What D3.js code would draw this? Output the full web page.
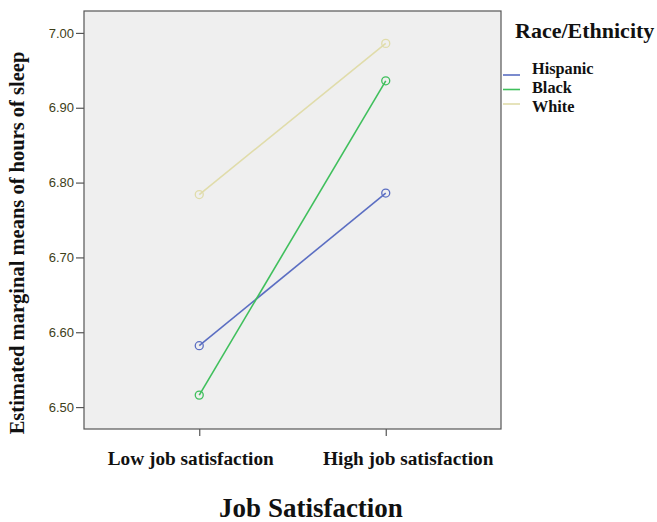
<!DOCTYPE html>
<html><head><meta charset="utf-8">
<script src="https://cdn.jsdelivr.net/npm/d3@7"></script>
<style>body{margin:0;background:#fff}svg{display:block}</style>
</head><body>
<svg id="c" width="657" height="522"></svg>
<script>
const categories = ["Low job satisfaction", "High job satisfaction"];
const seriesNames = ["Hispanic", "Black", "White"];
const hispanic = [6.582, 6.786];
const black = [6.516, 6.936];
const white = [6.784, 6.986];
const yTicks = [6.50, 6.60, 6.70, 6.80, 6.90, 7.00];
const colors = ["#5b6ec2", "#3fbf5c", "#e0dcaa"];

const svg = d3.select("#c");
const L = 84, R = 501, T = 11, B = 429;
const serif = "'Liberation Serif', 'Times New Roman', serif";
const x = d3.scalePoint().domain(categories).range([L, R]).padding(0.618);
const y = d3.scaleLinear().domain([6.4707, 7.0293]).range([B, T]);

svg.append("rect").attr("x", L).attr("y", T).attr("width", R - L).attr("height", B - T)
  .attr("fill", "#efefef").attr("stroke", "#555").attr("stroke-width", 1.2);

const yAxis = svg.append("g").attr("transform", `translate(${L},0)`)
  .call(d3.axisLeft(y).tickValues(yTicks).tickFormat(d3.format(".2f")).tickSize(8).tickPadding(2));
yAxis.select(".domain").remove();
yAxis.selectAll("line").attr("stroke", "#555").attr("stroke-width", 1.2);
yAxis.selectAll("text").attr("fill", "#3e3e18").style("font-family", "Arial, 'Liberation Sans', sans-serif").style("font-size", "13px");

const xAxis = svg.append("g").attr("transform", `translate(0,${B})`)
  .call(d3.axisBottom(x).tickSize(7).tickPadding(15));
xAxis.select(".domain").remove();
xAxis.selectAll("line").attr("stroke", "#555").attr("stroke-width", 1.2);
xAxis.selectAll("text").attr("fill", "#111").style("font-family", serif)
  .style("font-size", "19.3px").style("font-weight", "bold")
  .attr("dx", (d, i) => i === 0 ? -9 : 22);

const data = [hispanic, black, white];
const line = d3.line().x((d, i) => x(categories[i])).y(d => y(d));
data.forEach((vals, k) => {
  svg.append("path").datum(vals).attr("d", line).attr("fill", "none")
    .attr("stroke", colors[k]).attr("stroke-width", 1.6);
  svg.selectAll(null).data(vals).enter().append("circle")
    .attr("cx", (d, i) => x(categories[i])).attr("cy", d => y(d)).attr("r", 4)
    .attr("fill", "none").attr("stroke", colors[k]).attr("stroke-width", 1.3);
});

svg.append("text").attr("transform", `translate(24,243) rotate(-90)`).attr("text-anchor", "middle")
  .style("font-family", serif).style("font-size", "20.5px")
  .style("font-weight", "bold").attr("fill", "#111").text("Estimated marginal means of hours of sleep");

svg.append("text").attr("x", 311).attr("y", 517).attr("text-anchor", "middle")
  .style("font-family", serif).style("font-size", "27px")
  .style("font-weight", "bold").attr("fill", "#111").text("Job Satisfaction");

svg.append("text").attr("x", 515).attr("y", 38)
  .style("font-family", serif).style("font-size", "22px")
  .style("font-weight", "bold").attr("fill", "#111").text("Race/Ethnicity");

const leg = svg.append("g");
seriesNames.forEach((n, k) => {
  const yy = 75 + k * 14.5;
  const ty = 73.5 + k * 19.3;
  leg.append("line").attr("x1", 503).attr("x2", 520).attr("y1", yy).attr("y2", yy)
    .attr("stroke", colors[k]).attr("stroke-width", 1.6);
  leg.append("text").attr("x", 532).attr("y", ty)
    .style("font-family", serif).style("font-size", "16.3px")
    .style("font-weight", "bold").attr("fill", "#111").text(n);
});
</script>
</body></html>
